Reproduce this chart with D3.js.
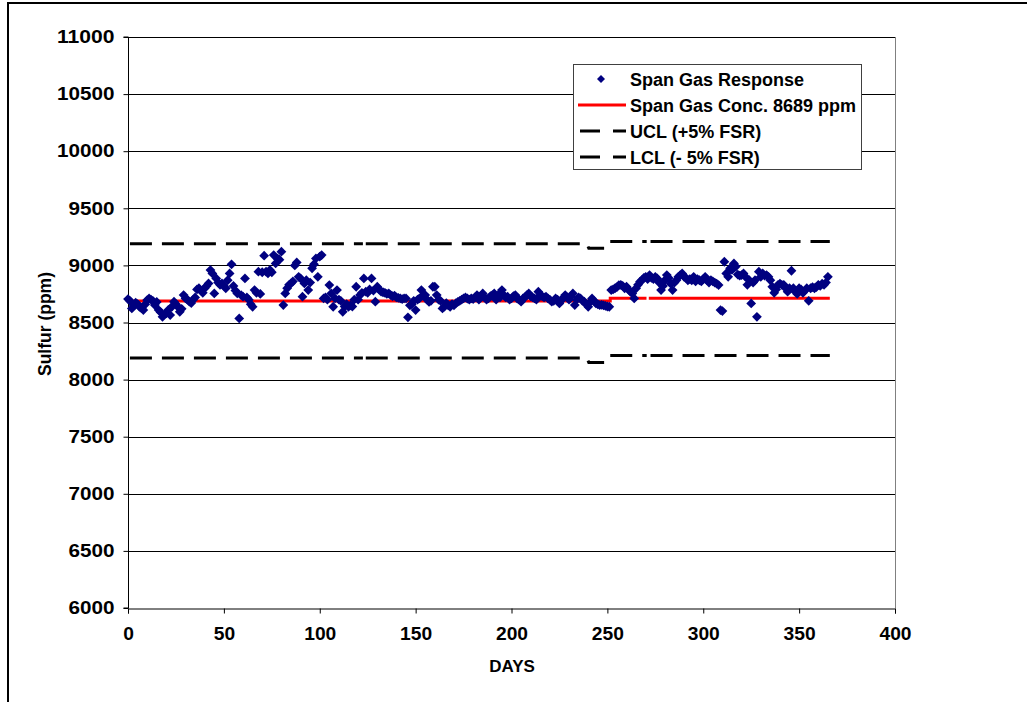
<!DOCTYPE html>
<html>
<head>
<meta charset="utf-8">
<script src="https://cdn.jsdelivr.net/npm/d3@7"></script>
<style>
  html, body { margin: 0; padding: 0; background: #fff; }
  text { font-family: "Liberation Sans", Arial, sans-serif; font-weight: bold; fill: #000; }
</style>
</head>
<body>
<script>
// ---------------- DATA ----------------
const yTicks = [6000, 6500, 7000, 7500, 8000, 8500, 9000, 9500, 10000, 10500, 11000];
const xTicks = [0, 50, 100, 150, 200, 250, 300, 350, 400];

// Span gas response, one value per day (day 0 .. 365)
const response = [
  8705, 8690, 8623, 8650, 8673, 8660, 8638, 8625, 8609, 8660,
  8696, 8711, 8700, 8690, 8653, 8680, 8609, 8590, 8550, 8570,
  8580, 8610, 8565, 8640, 8682, 8660, 8638, 8594, 8620, 8740,
  8711, 8700, 8682, 8670, 8700, 8720, 8790, 8800, 8780, 8760,
  8800, 8820, 8842, 8959, 8930, 8755, 8886, 8850, 8830, 8842,
  8820, 8800, 8870, 8930, 9009, 8820, 8780, 8755, 8536, 8740,
  8726, 8886, 8720, 8700, 8660, 8638, 8784, 8760, 8945, 8750,
  8940, 9085, 8945, 8930, 8960, 8940, 9090, 9017, 9060, 9050,
  9120, 8653, 8755, 8800, 8830, 8842, 8860, 9000, 9026, 8900,
  8886, 8726, 8842, 8870, 8784, 8850, 8974, 9010, 9061, 8900,
  9076, 9090, 8711, 8720, 8700, 8828, 8755, 8638, 8711, 8784,
  8700, 8690, 8594, 8640, 8660, 8638, 8650, 8640, 8700, 8813,
  8700, 8740, 8760, 8886, 8770, 8760, 8790, 8886, 8780, 8682,
  8813, 8790, 8770, 8765, 8760, 8750, 8755, 8740, 8730, 8735,
  8720, 8715, 8711, 8705, 8711, 8711, 8545, 8650, 8660, 8690,
  8609, 8700, 8711, 8784, 8740, 8740, 8700, 8680, 8690, 8813,
  8813, 8740, 8700, 8690, 8623, 8640, 8670, 8650, 8638, 8660,
  8650, 8670, 8680, 8690, 8700, 8711, 8720, 8710, 8700, 8711,
  8705, 8720, 8740, 8700, 8730, 8755, 8720, 8700, 8711, 8730,
  8740, 8755, 8700, 8740, 8720, 8784, 8740, 8720, 8726, 8700,
  8711, 8730, 8740, 8710, 8700, 8682, 8711, 8720, 8740, 8755,
  8730, 8720, 8711, 8700, 8770, 8740, 8730, 8720, 8726, 8711,
  8700, 8682, 8690, 8711, 8700, 8667, 8700, 8711, 8740, 8720,
  8700, 8730, 8755, 8653, 8700, 8720, 8711, 8690, 8682, 8660,
  8638, 8680, 8711, 8690, 8667, 8660, 8653, 8655, 8650, 8645,
  8640, 8638, 8784, 8790, 8800, 8810, 8828, 8830, 8820, 8800,
  8813, 8790, 8770, 8755, 8711, 8800, 8830, 8857, 8870, 8890,
  8900, 8880, 8915, 8890, 8880, 8900, 8886, 8850, 8784, 8820,
  8870, 8915, 8890, 8840, 8784, 8850, 8870, 8900, 8915, 8930,
  8900, 8890, 8870, 8880, 8870, 8900, 8860, 8880, 8870, 8860,
  8880, 8900, 8870, 8850, 8870, 8860, 8850, 8840, 8828, 8609,
  8600, 9032, 8930, 8900, 8974, 8960, 9017, 8990, 8920, 8910,
  8915, 8930, 8900, 8830, 8870, 8667, 8850, 8870, 8550, 8945,
  8900, 8930, 8910, 8915, 8900, 8870, 8813, 8760, 8790, 8830,
  8840, 8830, 8830, 8800, 8770, 8800, 8953, 8800, 8770, 8750,
  8800, 8790, 8760, 8780, 8800, 8690, 8800, 8810, 8800, 8810,
  8830, 8820, 8840, 8830, 8850, 8900
];

// Span gas concentration line pieces [day, ppm]
const concSegments = [
  [[0, 8689], [251.5, 8689], [251.5, 8712], [270.4, 8712]],
  [[271.6, 8712], [366, 8712]]
];
// Upper / lower control limits pieces [day, ppm]
const uclSegments = [
  [[1, 9189], [122.5, 9189]],
  [[124, 9189], [239.3, 9189], [240.3, 9150], [248.3, 9150]],
  [[251.5, 9210], [270.5, 9210]],
  [[272.5, 9210], [366, 9210]]
];
const lclSegments = [
  [[1, 8189], [122.5, 8189]],
  [[124, 8189], [239.3, 8189], [240.3, 8150], [248.3, 8150]],
  [[251.5, 8210], [270.5, 8210]],
  [[272.5, 8210], [366, 8210]]
];

const legendLabels = ["Span Gas Response", "Span Gas Conc. 8689 ppm", "UCL (+5% FSR)", "LCL (- 5% FSR)"];

// ---------------- CHART ----------------
const W = 1027, H = 702;
const svg = d3.select("body").append("svg").attr("width", W).attr("height", H);

// outer frame (top & left visible)
svg.append("rect").attr("x", 8).attr("y", 3).attr("width", W + 20).attr("height", H + 20)
  .attr("fill", "none").attr("stroke", "#000").attr("stroke-width", 2);

const x = d3.scaleLinear().domain([0, 400]).range([128, 895]);
const y = d3.scaleLinear().domain([6000, 11000]).range([608, 37]);

// gridlines
svg.append("g").selectAll("line").data(yTicks.filter(v => v > 6000)).join("line")
  .attr("x1", x(0)).attr("x2", x(400))
  .attr("y1", d => Math.round(y(d)) + 0.5).attr("y2", d => Math.round(y(d)) + 0.5)
  .attr("stroke", "#000").attr("stroke-width", 1);

// plot area border (right side)
svg.append("line").attr("x1", x(400) + 0.5).attr("x2", x(400) + 0.5)
  .attr("y1", y(11000)).attr("y2", y(6000)).attr("stroke", "#808080").attr("stroke-width", 1);

// axes
const yAxis = svg.append("g").attr("transform", `translate(${x(0) + 0.5},0)`)
  .call(d3.axisLeft(y).tickValues(yTicks).tickSize(5).tickPadding(9).tickFormat(d3.format("d")));
const xAxis = svg.append("g").attr("transform", `translate(0,${Math.round(y(6000)) + 0.5})`)
  .call(d3.axisBottom(x).tickValues(xTicks).tickSize(5).tickPadding(14).tickFormat(d3.format("d")));
[yAxis, xAxis].forEach(g => {
  g.selectAll("path, line").attr("stroke", "#000");
  g.selectAll("text").style("font-size", "18px");
});
yAxis.selectAll(".tick text").each(function (d) {
  const n = String(d).length;
  d3.select(this).attr("textLength", n * 11.5).attr("lengthAdjust", "spacingAndGlyphs");
});
xAxis.selectAll(".tick text").each(function (d) {
  const n = String(d).length;
  d3.select(this).attr("textLength", n * 10.7).attr("lengthAdjust", "spacingAndGlyphs");
});
yAxis.select(".domain").attr("d", `M-5,${y(11000)}H0V${y(6000)}H-5`);

// axis titles
svg.append("text").attr("x", 512).attr("y", 672).attr("text-anchor", "middle")
  .style("font-size", "17px").text("DAYS");
svg.append("text").attr("transform", "translate(51,324) rotate(-90)").attr("text-anchor", "middle")
  .style("font-size", "17.5px").text("Sulfur (ppm)");

// lines
const line = d3.line().x(d => x(d[0])).y(d => y(d[1]));
svg.append("g").selectAll("path").data(concSegments).join("path")
  .attr("d", line).attr("fill", "none").attr("stroke", "#ff0000").attr("stroke-width", 3);
svg.append("g").selectAll("path").data(uclSegments.concat(lclSegments)).join("path")
  .attr("d", line).attr("fill", "none").attr("stroke", "#000").attr("stroke-width", 3)
  .attr("stroke-dasharray", "22,10");

// response markers
const diamond = d3.symbol().type(d3.symbolSquare).size(48);
svg.append("g").selectAll("path").data(response).join("path")
  .attr("transform", (d, i) => `translate(${x(i)},${y(d)}) rotate(45)`)
  .attr("d", diamond).attr("fill", "#000080");

// legend
const lg = svg.append("g");
lg.append("rect").attr("x", 573.5).attr("y", 64.5).attr("width", 288).attr("height", 105)
  .attr("fill", "#fff").attr("stroke", "#404040").attr("stroke-width", 1);
const rowsY = [79, 105, 131, 157];
lg.append("path").attr("transform", `translate(601,${rowsY[0]}) rotate(45)`)
  .attr("d", d3.symbol().type(d3.symbolSquare).size(32)).attr("fill", "#000080");
lg.append("line").attr("x1", 578).attr("x2", 626).attr("y1", rowsY[1]).attr("y2", rowsY[1])
  .attr("stroke", "#ff0000").attr("stroke-width", 3);
[2, 3].forEach(i => {
  lg.append("line").attr("x1", 580).attr("x2", 626).attr("y1", rowsY[i]).attr("y2", rowsY[i])
    .attr("stroke", "#000").attr("stroke-width", 3).attr("stroke-dasharray", "20,13");
});
lg.selectAll("text.lbl").data(legendLabels).join("text").attr("class", "lbl")
  .attr("x", 630).attr("y", (d, i) => rowsY[i] + 6.5).style("font-size", "18px").text(d => d);
</script>
</body>
</html>
